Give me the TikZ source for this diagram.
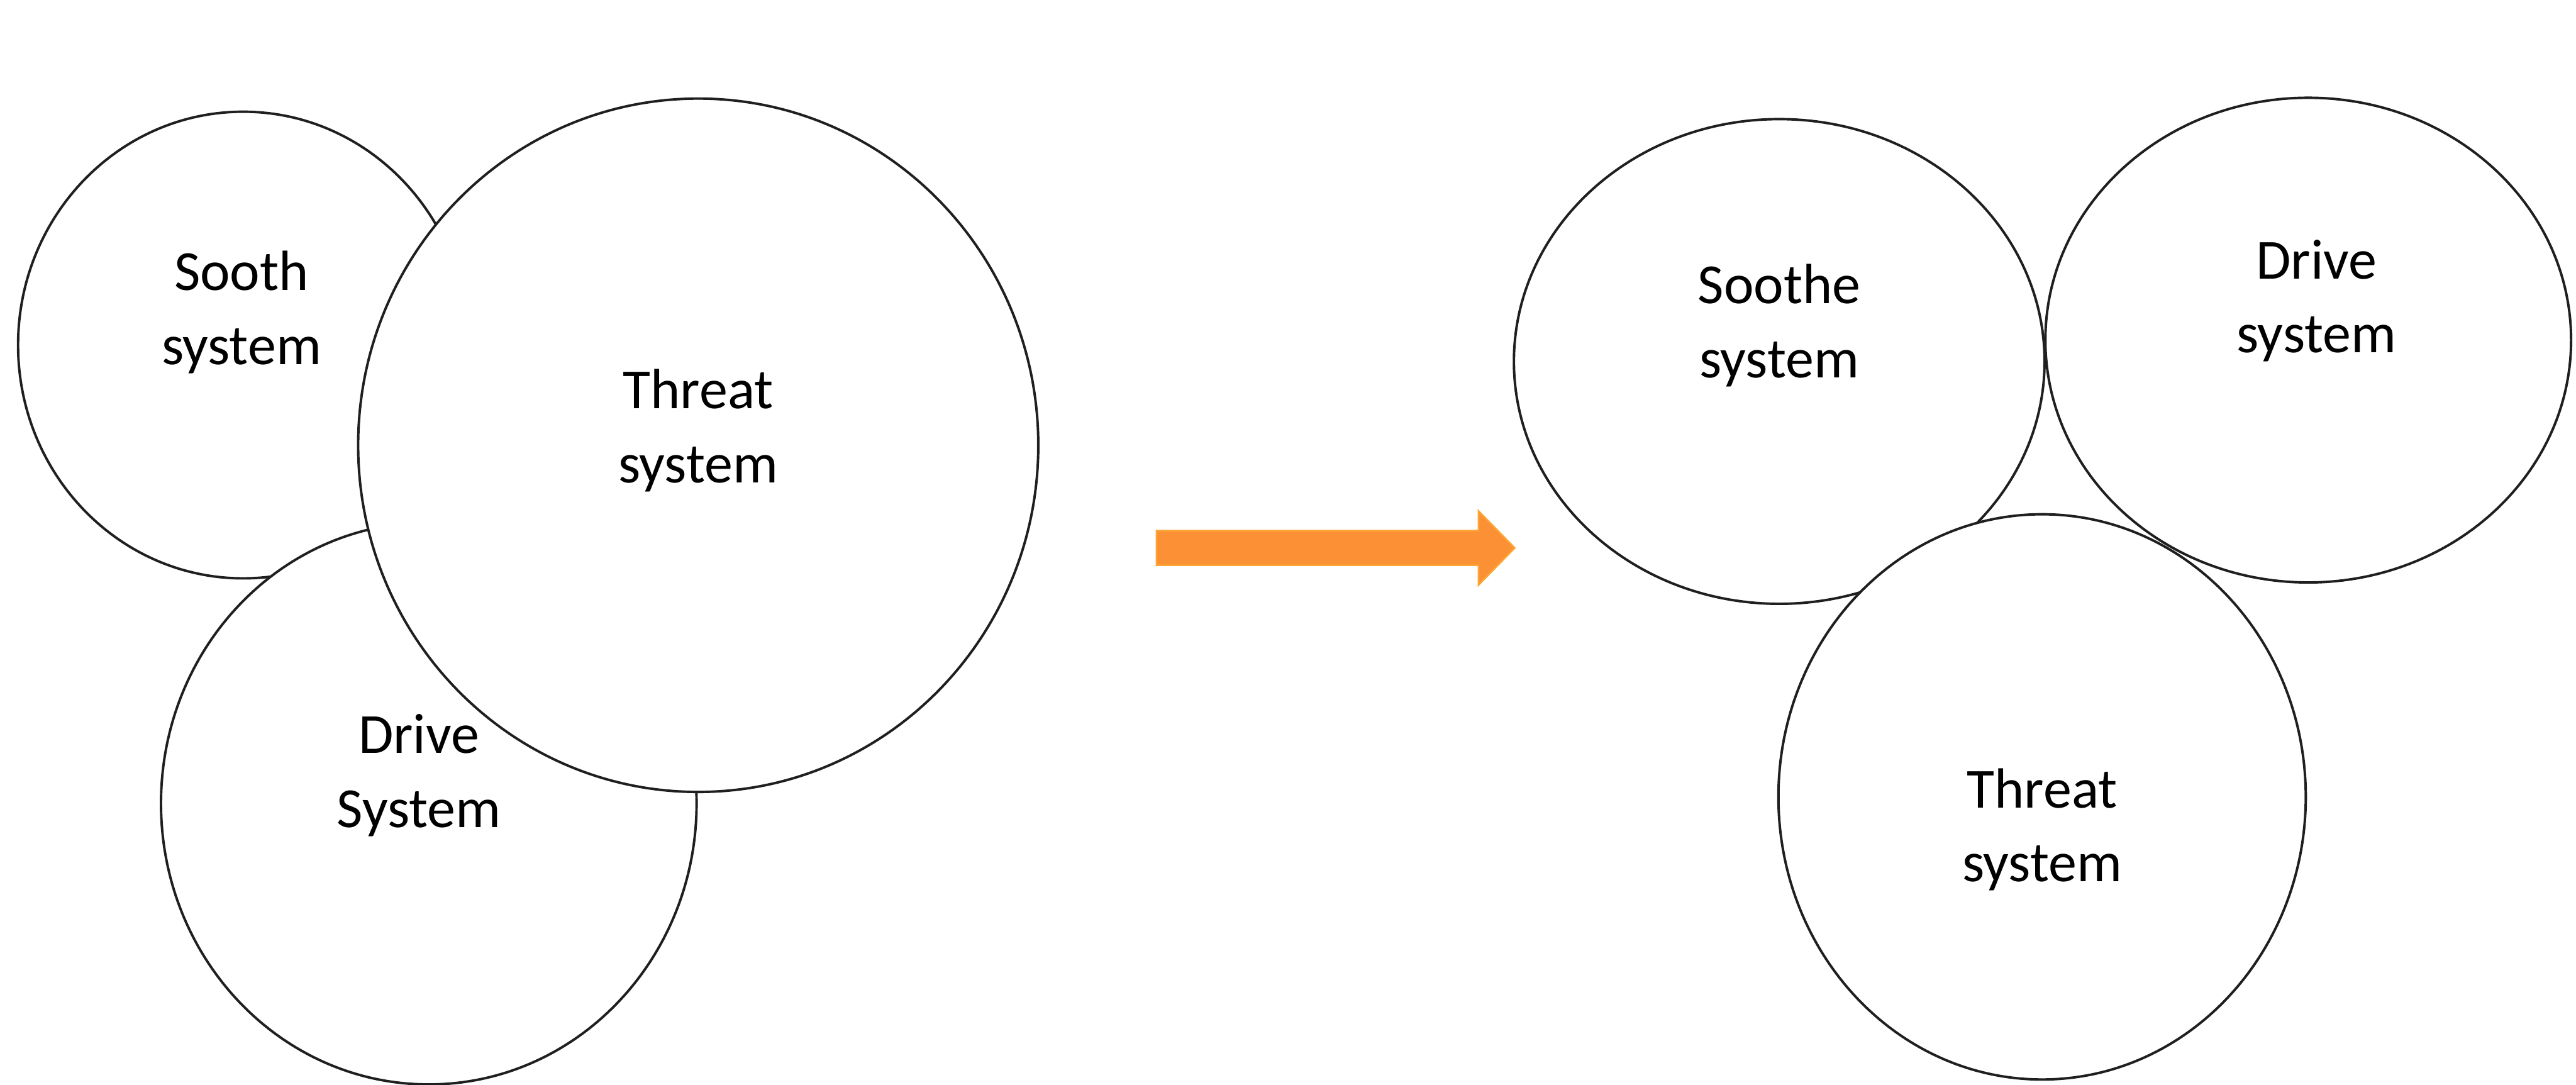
\documentclass[tikz,border=0pt]{standalone}
\usepackage{fontspec}
\setmainfont{Carlito}
\usetikzlibrary{shapes.geometric}
\definecolor{arrowfill}{HTML}{FC9035}
\definecolor{arrowedge}{HTML}{FDA532}
\begin{document}
\begin{tikzpicture}[x=1pt,y=-1pt,
  sysellipse/.style={ellipse,draw=black!88,line width=1.5pt,fill=white,inner sep=0pt},
  label/.style={align=center,font=\fontsize{34.5}{45}\selectfont,text=black}]
\useasboundingbox[fill=white] (0,0) rectangle (1568,660);
% left group
\node[sysellipse,minimum width=274pt,minimum height=284pt] (soothL) at (148,210) {};
\node[sysellipse,minimum width=326pt,minimum height=342pt] (driveL) at (261,489) {};
\node[sysellipse,minimum width=414pt,minimum height=422pt] (threatL) at (425,271) {};
\node[label] (soothLt) at (147,190) {Sooth\\system};
\node[label] (driveLt) at (255,472) {Drive\\System};
\node[label] (threatLt) at (425,262) {Threat\\system};
% arrow
\fill[arrowfill,draw=arrowedge,line width=1pt,line join=miter]
  (704,323) -- (900,323) -- (900,311) -- (922,333.5) -- (900,356) -- (900,344) -- (704,344) -- cycle;
% right group
\node[sysellipse,minimum width=323pt,minimum height=295pt] (soothR) at (1083,220) {};
\node[sysellipse,minimum width=320pt,minimum height=295pt] (driveR) at (1405,207) {};
\node[sysellipse,minimum width=321pt,minimum height=344pt] (threatR) at (1243,485) {};
\node[label] (soothRt) at (1083,198) {Soothe\\system};
\node[label] (driveRt) at (1410,183) {Drive\\system};
\node[label] (threatRt) at (1243,505) {Threat\\system};
\end{tikzpicture}
\end{document}
